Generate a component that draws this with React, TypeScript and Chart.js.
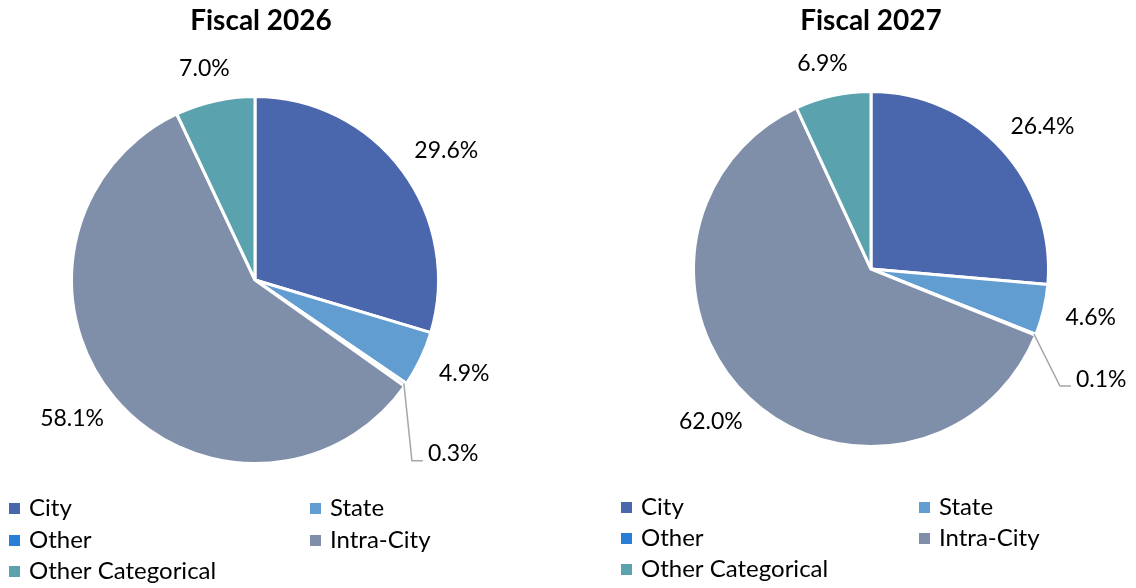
import React, { useEffect, useRef } from 'react';
import { Chart, registerables } from 'chart.js';

Chart.register(...registerables);

const categories = ['City', 'State', 'Other', 'Intra-City', 'Other Categorical'];
const fiscal2026 = [29.6, 4.9, 0.3, 58.1, 7.0];
const fiscal2027 = [26.4, 4.6, 0.1, 62.0, 6.9];
const chartTitles = ['Fiscal 2026', 'Fiscal 2027'];
const sliceColors = ['#4A66AC', '#629DD1', '#297FD5', '#7F8FA9', '#5AA2AE'];

const FONT = 'Lato, "Open Sans", "DejaVu Sans", sans-serif';

type Cfg = {
  title: string;
  values: number[];
  left: number;
  width: number;
  padding: { left: number; right: number; top: number; bottom: number };
  titleX: number;
  titleBaseline: number;
  smallOffset: { dx: number; dy: number };
  legend: { x1: number; x2: number; rows: number[] };
};

const configs: Cfg[] = [
  {
    title: chartTitles[0],
    values: fiscal2026,
    left: 0,
    width: 568,
    padding: { left: 70, right: 128, top: 95, bottom: 123 },
    titleX: 261,
    titleBaseline: 30,
    smallOffset: { dx: 8, dy: 77 },
    legend: { x1: 9, x2: 310, rows: [516, 548, 579] },
  },
  {
    title: chartTitles[1],
    values: fiscal2027,
    left: 568,
    width: 568,
    padding: { left: 124, right: 86, top: 90, bottom: 140 },
    titleX: 303,
    titleBaseline: 30,
    smallOffset: { dx: 26, dy: 52 },
    legend: { x1: 53, x2: 351, rows: [515, 546, 577] },
  },
];

function overlayPlugin(cfg: Cfg) {
  return {
    id: 'overlay' + cfg.title.replace(/\s/g, ''),
    afterDraw(chart: any) {
      const ctx = chart.ctx as CanvasRenderingContext2D;
      ctx.save();
      // Title
      ctx.fillStyle = '#000';
      ctx.font = `bold 28px ${FONT}`;
      ctx.textAlign = 'center';
      ctx.textBaseline = 'alphabetic';
      ctx.fillText(cfg.title, cfg.titleX, cfg.titleBaseline);

      // Data labels
      const meta = chart.getDatasetMeta(0);
      ctx.font = `23px ${FONT}`;
      meta.data.forEach((arc: any, i: number) => {
        const v = cfg.values[i];
        const text = v.toFixed(1) + '%';
        const mid = (arc.startAngle + arc.endAngle) / 2;
        const cx = arc.x;
        const cy = arc.y;
        const r = arc.outerRadius;
        const dx = Math.cos(mid);
        const dy = Math.sin(mid);
        const w = ctx.measureText(text).width;
        const h = 20;
        if (v < 1) {
          const ex = cx + dx * (r - 2);
          const ey = cy + dy * (r - 2);
          const bx = ex + cfg.smallOffset.dx;
          const by = ey + cfg.smallOffset.dy;
          ctx.strokeStyle = '#A6A6A6';
          ctx.lineWidth = 1.5;
          ctx.beginPath();
          ctx.moveTo(ex, ey);
          ctx.lineTo(bx, by);
          ctx.lineTo(bx + 11, by);
          ctx.stroke();
          ctx.textAlign = 'left';
          ctx.textBaseline = 'middle';
          ctx.fillStyle = '#000';
          ctx.fillText(text, bx + 16, by - 7);
        } else {
          const gap = 23;
          const ax = cx + dx * (r + gap);
          const ay = cy + dy * (r + gap);
          const tx = ax + dx * (w / 2);
          const ty = ay + dy * (h / 2);
          ctx.textAlign = 'center';
          ctx.textBaseline = 'middle';
          ctx.fillStyle = '#000';
          ctx.fillText(text, tx, ty);
        }
      });

      // Legend
      ctx.font = `24px ${FONT}`;
      ctx.textAlign = 'left';
      ctx.textBaseline = 'alphabetic';
      categories.forEach((name, i) => {
        const row = Math.floor(i / 2);
        const col = i % 2;
        const mx = col === 0 ? cfg.legend.x1 : cfg.legend.x2;
        const by = cfg.legend.rows[row];
        ctx.fillStyle = sliceColors[i];
        ctx.fillRect(mx, by - 13, 11, 11);
        ctx.fillStyle = '#000';
        ctx.fillText(name, mx + 20, by);
      });
      ctx.restore();
    },
  };
}

function PieChart({ cfg }: { cfg: Cfg }) {
  const ref = useRef<HTMLCanvasElement>(null);
  useEffect(() => {
    if (!ref.current) return;
    const chart = new Chart(ref.current, {
      type: 'pie',
      data: {
        labels: categories,
        datasets: [
          {
            data: cfg.values,
            backgroundColor: sliceColors,
            borderColor: '#FFFFFF',
            borderWidth: 3,
          },
        ],
      },
      options: {
        responsive: false,
        animation: false,
        devicePixelRatio: 1,
        layout: { padding: cfg.padding },
        plugins: {
          legend: { display: false },
          title: { display: false },
          tooltip: { enabled: false },
        },
      },
      plugins: [overlayPlugin(cfg)],
    });
    return () => chart.destroy();
  }, [cfg]);
  return (
    <canvas
      ref={ref}
      width={cfg.width}
      height={588}
      style={{ position: 'absolute', left: cfg.left, top: 0, width: cfg.width, height: 588 }}
    />
  );
}

export default function App() {
  return (
    <div style={{ position: 'absolute', left: 0, top: 0, width: 1136, height: 588, background: '#fff' }}>
      {configs.map((c) => (
        <PieChart key={c.title} cfg={c} />
      ))}
    </div>
  );
}
